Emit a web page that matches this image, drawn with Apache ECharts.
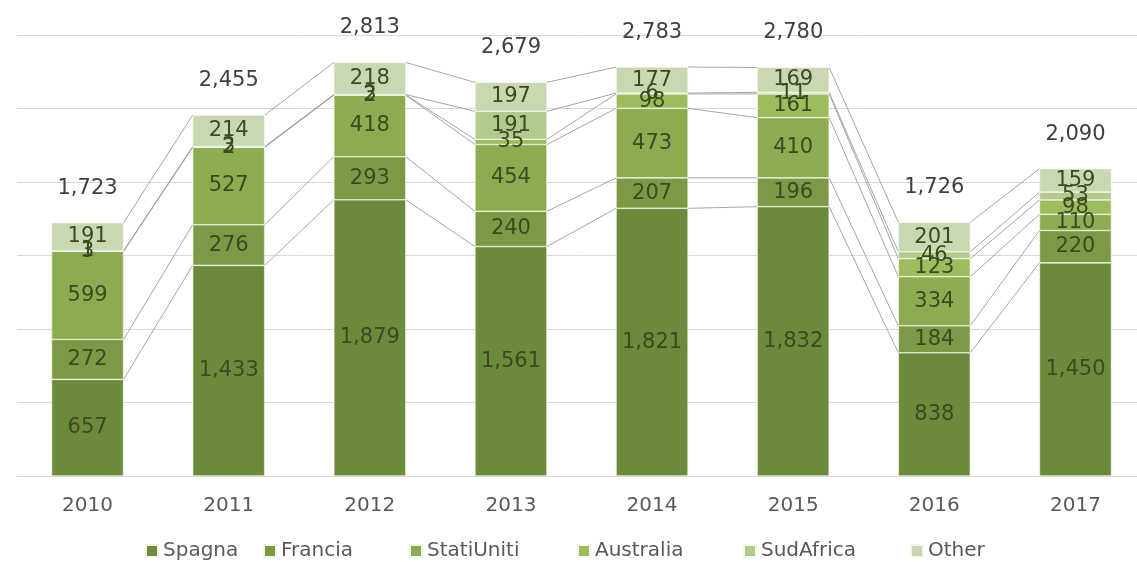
<!DOCTYPE html>
<html>
<head>
<meta charset="utf-8">
<script src="https://cdn.jsdelivr.net/npm/echarts@6/dist/echarts.min.js"></script>
<style>
  html, body { margin: 0; padding: 0; background: #fff; }
  #chart { width: 1137px; height: 562px; }
</style>
</head>
<body>
<div id="chart"></div>
<script>
// Annual volumes by country of destination
const years = ['2010', '2011', '2012', '2013', '2014', '2015', '2016', '2017'];
const spagna     = [657, 1433, 1879, 1561, 1821, 1832, 838, 1450];
const francia    = [272, 276, 293, 240, 207, 196, 184, 220];
const statiUniti = [599, 527, 418, 454, 473, 410, 334, 110];
const australia  = [3, 2, 2, 35, 98, 161, 123, 98];
const sudAfrica  = [1, 3, 3, 191, 6, 11, 46, 53];
const other      = [191, 214, 218, 197, 177, 169, 201, 159];
const totals     = [1723, 2455, 2813, 2679, 2783, 2780, 1726, 2090];
const yTicks = [0, 500, 1000, 1500, 2000, 2500, 3000];

const seriesDefs = [
  { name: 'Spagna', data: spagna, color: '#6c8a3c' },
  { name: 'Francia', data: francia, color: '#7c9a45' },
  { name: 'StatiUniti', data: statiUniti, color: '#8dab50' },
  { name: 'Australia', data: australia, color: '#9dbc5c' },
  { name: 'SudAfrica', data: sudAfrica, color: '#b3c98e' },
  { name: 'Other', data: other, color: '#c8d8b3' }
];
// left offsets of the legend entries
const legendLeft = [140, 258, 404, 572, 738, 905];

const FONT = '"DejaVu Sans", "Noto Sans", sans-serif';
const BAR_W = 72;
const fmt = v => v.toLocaleString('en-US');

// cumulative tops of every segment, used for the connecting series lines
const cumTops = seriesDefs.map((_, k) =>
  years.map((_, i) => seriesDefs.slice(0, k + 1).reduce((s, d) => s + d.data[i], 0))
);

const barSeries = seriesDefs.map(d => ({
  name: d.name,
  type: 'bar',
  stack: 'total',
  barWidth: BAR_W,
  data: d.data,
  itemStyle: { color: d.color, borderColor: '#f4f8e8', borderWidth: 0.6 },
  label: {
    show: true,
    position: 'inside',
    formatter: p => fmt(p.value),
    color: '#3c4a22',
    fontFamily: FONT,
    fontSize: 21
  },
  z: 3
}));

// invisible zero-height bar carrying the total label above each column
const totalSeries = {
  name: 'Totale',
  type: 'bar',
  stack: 'total',
  barWidth: BAR_W,
  data: years.map(() => 0),
  itemStyle: { color: 'transparent' },
  label: {
    show: true,
    position: 'top',
    distance: 24,
    formatter: p => fmt(totals[p.dataIndex]),
    color: '#404040',
    fontFamily: FONT,
    fontSize: 21
  },
  z: 4
};

// series lines linking the segment tops between neighbouring columns
const linesSeries = {
  name: 'lines',
  type: 'custom',
  data: years.slice(0, -1).map((_, i) => [i, 0]),
  encode: { x: 0, y: 1 },
  renderItem: (params, api) => {
    const i = params.dataIndex;
    const children = cumTops.map(tops => {
      const a = api.coord([i, tops[i]]);
      const b = api.coord([i + 1, tops[i + 1]]);
      return {
        type: 'line',
        shape: { x1: a[0] + BAR_W / 2, y1: a[1], x2: b[0] - BAR_W / 2, y2: b[1] },
        style: { stroke: '#a6a6a6', lineWidth: 1 }
      };
    });
    return { type: 'group', children };
  },
  silent: true,
  z: 2
};

const legends = seriesDefs.map((d, k) => ({
  data: [d.name],
  left: legendLeft[k],
  top: 536,
  itemWidth: 12,
  itemHeight: 12,
  itemGap: 0,
  icon: 'rect',
  textStyle: { color: '#595959', fontFamily: FONT, fontSize: 20 }
}));

const chart = echarts.init(document.getElementById('chart'), null, { renderer: 'canvas' });
chart.setOption({
  animation: false,
  backgroundColor: '#ffffff',
  grid: { left: 17, width: 1129, top: 35, bottom: 86, containLabel: false, outerBoundsMode: 'none' },
  legend: legends,
  xAxis: {
    type: 'category',
    data: years,
    axisLine: { lineStyle: { color: '#d9d9d9', width: 1 } },
    axisTick: { show: false },
    axisLabel: { color: '#595959', fontFamily: FONT, fontSize: 20, margin: 20 }
  },
  yAxis: {
    type: 'value',
    min: yTicks[0],
    max: yTicks[yTicks.length - 1],
    interval: yTicks[1] - yTicks[0],
    axisLine: { show: false },
    axisTick: { show: false },
    axisLabel: { show: false },
    splitLine: { lineStyle: { color: '#d9d9d9', width: 1 } }
  },
  series: [linesSeries, ...barSeries, totalSeries]
});
</script>
</body>
</html>
